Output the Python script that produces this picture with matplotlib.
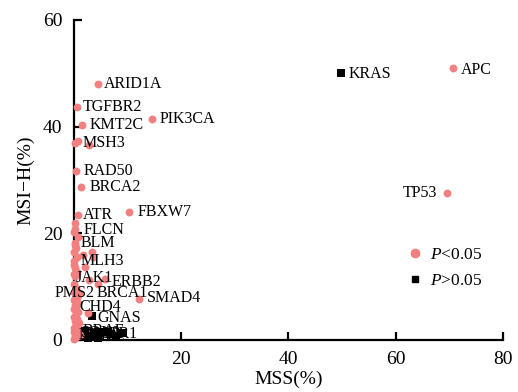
"""
MSS vs MSI-H mutation frequency scatter (gene labels, significance by marker)
"""

### Import modules
import matplotlib
matplotlib.use('Agg')
import matplotlib.pyplot as plt
from matplotlib.lines import Line2D

### Labelled genes: MSS(%), MSI-H(%), significant (1 = P<0.05)
genes = ['APC', 'KRAS', 'TP53', 'ARID1A', 'TGFBR2', 'KMT2C', 'PIK3CA', 'MSH3',
         'RAD50', 'BRCA2', 'ATR', 'FBXW7', 'FLCN', 'BLM', 'MLH3', 'JAK1',
         'ERBB2', 'PMS2', 'BRCA1', 'SMAD4', 'CHD4', 'GNAS',
         'NRAS', 'BRAF', 'POLE', 'SOX9', 'AMER1']
mss = [70.7, 49.9, 69.6, 4.5, 0.6, 1.6, 14.6, 0.2,
       0.5, 1.3, 0.9, 10.4, 0.2, 0.3, 0.1, 0.0,
       5.9, 0.1, 4.6, 12.1, 0.4, 3.4,
       1.5, 3.0, 4.5, 6.0, 8.0]
msih = [51.0, 50.1, 27.6, 48.0, 43.6, 40.3, 41.4, 37.0,
        31.6, 28.6, 23.5, 23.9, 20.8, 18.1, 14.7, 12.3,
        11.4, 9.0, 10.5, 7.6, 6.0, 4.5,
        0.5, 0.8, 0.4, 1.5, 0.6]
sig = [1, 0, 1, 1, 1, 1, 1, 1,
       1, 1, 1, 1, 1, 1, 1, 1,
       1, 1, 1, 1, 1, 0,
       0, 0, 0, 0, 0]

### Unlabelled genes
other_mss = [0.9, 2.9, 0.3, 1.8, 3.4, 3.6, 0.6, 0.0, 2.1, 0.3, 2.8, 2.7,
             0.0, 0.5, 0.2, 0.8, 0.1, 0.6, 0.0, 0.4, 1.0, 0.2, 0.7, 0.0,
             0.5, 0.9, 0.1, 0.3, 0.8, 0.0, 0.6, 1.1, 0.2, 0.4, 0.0, 0.7,
             0.3, 0.1, 0.5, 0.9, 0.0, 0.2, 0.6, 1.2, 0.4,
             0.8, 2.2, 3.8, 5.3, 7.0, 9.2, 1.2, 2.6]
other_msih = [37.3, 36.6, 17.8, 15.9, 16.4, 15.6, 15.6, 14.1, 13.7, 11.9, 11.3, 5.1,
              0.2, 0.5, 0.8, 1.2, 1.5, 1.9, 2.3, 2.7, 3.1, 3.5, 3.9, 4.3,
              4.8, 5.2, 5.7, 6.6, 7.0, 7.5, 8.0, 8.6, 9.2, 9.8, 10.5, 12.8,
              13.5, 16.5, 17.2, 19.3, 20.2, 22.0, 2.0, 1.0, 6.3,
              1.0, 1.6, 1.2, 1.5, 1.1, 1.3, 0.9, 0.3]
other_sig = [1, 1, 1, 1, 1, 1, 1, 1, 1, 1, 1, 1,
             1, 1, 1, 1, 1, 1, 1, 1, 1, 1, 1, 1,
             1, 1, 1, 1, 1, 1, 1, 1, 1, 1, 1, 1,
             1, 1, 1, 1, 1, 1, 1, 1, 1,
             0, 0, 0, 0, 0, 0, 0, 0]

### Where each label sits (data units, left edge / vertical centre)
label_pos = {'APC': (72.2, 50.6), 'KRAS': (51.2, 49.9), 'TP53': (67.7, 27.6),
             'ARID1A': (5.55, 48.0), 'TGFBR2': (1.7, 43.6), 'KMT2C': (2.95, 40.3),
             'PIK3CA': (16.1, 41.4), 'MSH3': (1.7, 37.0), 'RAD50': (1.8, 31.6),
             'BRCA2': (2.9, 28.6), 'ATR': (1.7, 23.5), 'FBXW7': (12.0, 23.9),
             'FLCN': (1.95, 20.6), 'BLM': (1.3, 18.1), 'MLH3': (1.3, 14.7),
             'JAK1': (0.3, 11.6), 'ERBB2': (7.1, 10.9), 'PMS2': (-3.6, 8.75),
             'BRCA1': (4.3, 8.75), 'SMAD4': (13.7, 7.8), 'CHD4': (1.1, 6.25),
             'GNAS': (4.4, 4.1), 'NRAS': (1.0, 0.9), 'BRAF': (1.6, 1.6),
             'POLE': (2.2, 0.6), 'SOX9': (1.3, 1.3), 'AMER1': (2.0, 1.1)}

pink = '#f28080'

### Plot figure
plt.rc('font', family='Liberation Serif')
plt.rc('mathtext', fontset='custom', rm='Liberation Serif',
       it='Liberation Serif:italic')

fig = plt.figure(figsize=(5.18, 3.92), dpi=100)
ax = fig.add_axes([0.142, 0.133, 0.829, 0.816])

allx = mss + other_mss
ally = msih + other_msih
alls = sig + other_sig
px = [x for x, s in zip(allx, alls) if s]
py = [y for y, s in zip(ally, alls) if s]
nx = [x for x, s in zip(allx, alls) if not s]
ny = [y for y, s in zip(ally, alls) if not s]

ax.scatter(nx, ny, s=28, marker='s', color='k', linewidths=0, zorder=3,
           clip_on=False)
ax.scatter(px, py, s=32, marker='o', color=pink, linewidths=0, zorder=4,
           clip_on=False)

for g in genes:
    tx, ty = label_pos[g]
    ha = 'right' if g == 'TP53' else 'left'
    ax.text(tx, ty, g, fontsize=11.5, ha=ha, va='center', zorder=5)

ax.set_xlim(0, 80)
ax.set_ylim(0, 60)
ax.set_xticks([20, 40, 60, 80])
ax.set_yticks([0, 20, 40, 60])
ax.tick_params(direction='in', length=6, width=1.6, labelsize=14, pad=8)
for sp in ['top', 'right']:
    ax.spines[sp].set_visible(False)
for sp in ['left', 'bottom']:
    ax.spines[sp].set_linewidth(1.6)

ax.set_xlabel('MSS(%)', fontsize=14, labelpad=2)
ax.set_ylabel('MSI\u2212H(%)', fontsize=14, labelpad=6)

handles = [Line2D([], [], marker='o', ls='', color=pink, markersize=6),
           Line2D([], [], marker='s', ls='', color='k', markersize=5)]
ax.legend(handles, [r'$P$<0.05', r'$P$>0.05'], loc='center left',
          bbox_to_anchor=(0.742, 0.225), frameon=False, fontsize=12.5,
          handlelength=0.8, handletextpad=0.5, labelspacing=0.6)

plt.savefig('out.png', dpi=100)
